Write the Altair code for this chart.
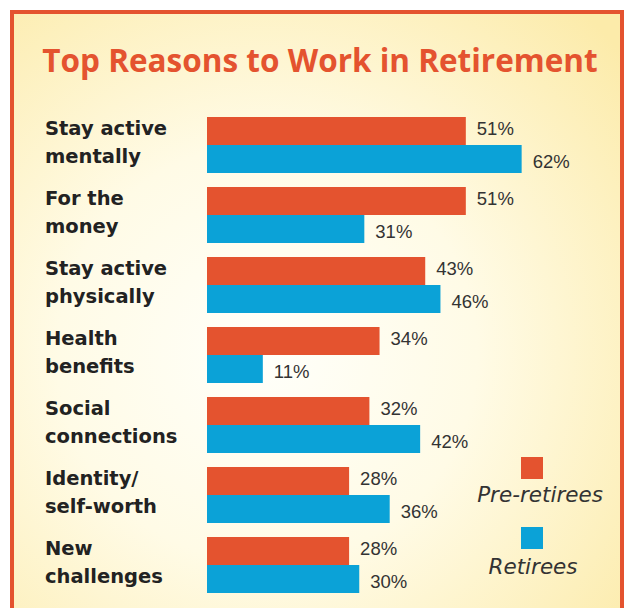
import altair as alt
import pandas as pd

# ---- data ----
categories = [
    "Stay active\nmentally",
    "For the\nmoney",
    "Stay active\nphysically",
    "Health\nbenefits",
    "Social\nconnections",
    "Identity/\nself-worth",
    "New\nchallenges",
]
series = ["Pre-retirees", "Retirees"]
pre_retirees = [51, 51, 43, 34, 32, 28, 28]
retirees = [62, 31, 46, 11, 42, 36, 30]
title_text = "Top Reasons to Work in Retirement"

# ---- style ----
ORANGE = "#e4532f"
BLUE = "#0ba2d7"
TEXT = "#222222"
W, H = 406, 504

rows = []
for c, p, r in zip(categories, pre_retirees, retirees):
    rows.append({"reason": c, "group": series[0], "value": p, "label": f"{p}%"})
    rows.append({"reason": c, "group": series[1], "value": r, "label": f"{r}%"})
df = pd.DataFrame(rows)
cat_df = pd.DataFrame({"reason": categories})
one = pd.DataFrame({"k": [0]})

y_enc = alt.Y("reason:N", sort=categories, axis=None,
              scale=alt.Scale(paddingInner=0.2, paddingOuter=0.2))
yoff_enc = alt.YOffset("group:N", sort=series,
                       scale=alt.Scale(paddingInner=0, paddingOuter=0))
x_enc = alt.X("value:Q", axis=None, scale=alt.Scale(domain=[0, 80], nice=False))
color_enc = alt.Color("group:N", legend=None,
                      scale=alt.Scale(domain=series, range=[ORANGE, BLUE]))

background = alt.Chart(one).mark_rect(
    color={
        "gradient": "radial",
        "x1": 0.42, "y1": 0.55, "r1": 0.0,
        "x2": 0.42, "y2": 0.55, "r2": 0.75,
        "stops": [
            {"offset": 0.0, "color": "#fffffa"},
            {"offset": 0.45, "color": "#fffbe6"},
            {"offset": 1.0, "color": "#fcebaa"},
        ],
    },
    stroke=ORANGE, strokeWidth=4,
).encode(x=alt.value(-195), x2=alt.value(415), y=alt.value(-91), y2=alt.value(530))

title = alt.Chart(one).mark_text(
    text=title_text, font="Open Sans", fontWeight="bold", fontSize=31.5,
    color=ORANGE, align="center", baseline="middle",
).encode(x=alt.value(113), y=alt.value(-40))

bars = alt.Chart(df).mark_bar(cornerRadius=0).encode(
    y=y_enc, yOffset=yoff_enc, x=x_enc, color=color_enc
)

value_layers = []
for name, shift in zip(series, [-2, 3]):
    value_layers.append(
        alt.Chart(df).transform_filter(alt.datum.group == name).mark_text(
            align="left", baseline="middle", dx=11, dy=shift,
            font="Liberation Sans", fontSize=18.5, color="#333333",
        ).encode(y=y_enc, yOffset=yoff_enc, x=x_enc, text="label:N")
    )

cat_labels = alt.Chart(cat_df).mark_text(
    align="left", baseline="middle", lineBreak="\n", lineHeight=28, dy=-16,
    font="DejaVu Sans", fontWeight="bold", fontSize=19.5, color=TEXT,
).encode(y=y_enc, x=alt.value(-162), text="reason:N")

legend_layers = []
legend_pos = [((325, 365), (333, 393)), ((325, 435), (326, 465))]
for name, col, (sq, tx) in zip(series, [ORANGE, BLUE], legend_pos):
    legend_layers.append(
        alt.Chart(one).mark_square(size=484, color=col, opacity=1)
        .encode(x=alt.value(sq[0]), y=alt.value(sq[1]))
    )
    legend_layers.append(
        alt.Chart(one).mark_text(
            text=name, font="DejaVu Sans", fontStyle="italic", fontSize=21.5,
            color="#333333", align="center", baseline="middle",
        ).encode(x=alt.value(tx[0]), y=alt.value(tx[1]))
    )

chart = alt.layer(background, title, bars, *value_layers, cat_labels, *legend_layers).properties(
    width=W, height=H,
    autosize=alt.AutoSizeParams(type="none"),
    padding={"left": 199, "right": 11, "top": 95, "bottom": 1},
    background="white",
).configure_view(stroke=None)

chart.save("out.html", embed_options={"renderer": "svg", "actions": False})
